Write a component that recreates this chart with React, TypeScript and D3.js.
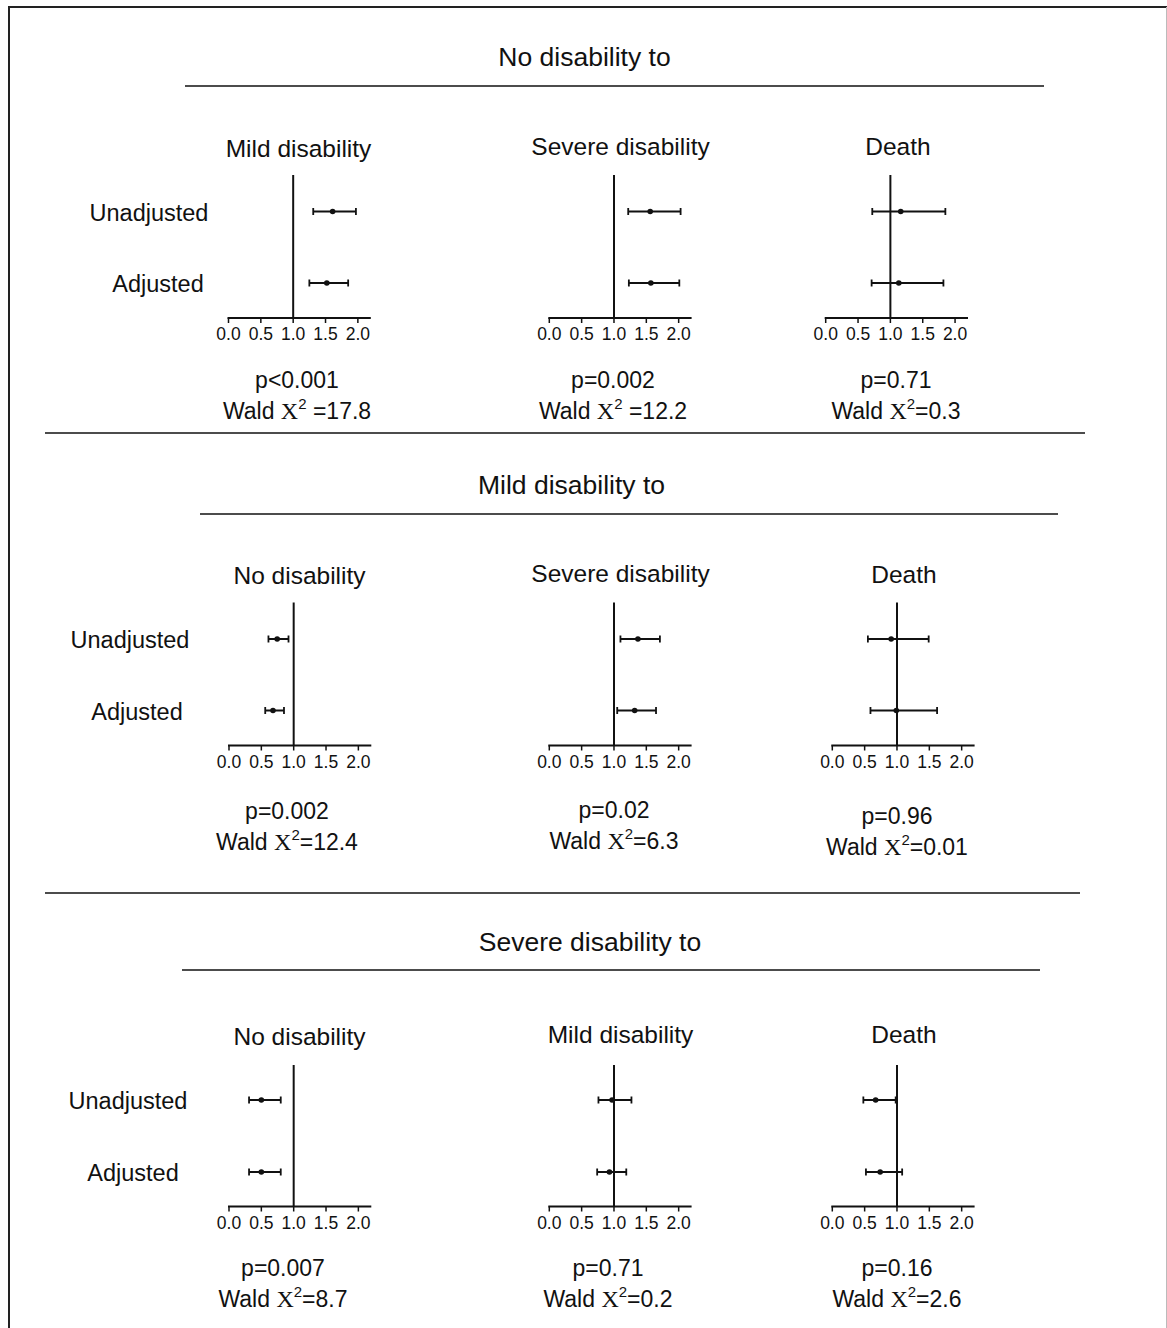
import React from 'react';
import * as d3 from 'd3';

// transition groups (rows) and destination states (columns)
const rowTitles = ['No disability to', 'Mild disability to', 'Severe disability to'];
const panelTitles = [
  ['Mild disability', 'Severe disability', 'Death'],
  ['No disability', 'Severe disability', 'Death'],
  ['No disability', 'Mild disability', 'Death'],
];
const modelLabels = ['Unadjusted', 'Adjusted'];

// hazard ratio estimates with 95% CI, per row then column
const unadjEst = [[1.61, 1.56, 1.16], [0.745, 1.37, 0.91], [0.5, 0.97, 0.67]];
const unadjLow = [[1.31, 1.22, 0.72], [0.61, 1.1, 0.55], [0.31, 0.76, 0.48]];
const unadjHigh = [[1.97, 2.03, 1.85], [0.92, 1.71, 1.49], [0.8, 1.27, 0.98]];
const adjEst = [[1.52, 1.57, 1.13], [0.68, 1.32, 0.99], [0.5, 0.93, 0.74]];
const adjLow = [[1.25, 1.23, 0.71], [0.56, 1.05, 0.59], [0.31, 0.74, 0.52]];
const adjHigh = [[1.85, 2.01, 1.82], [0.85, 1.65, 1.62], [0.8, 1.19, 1.08]];

const pValues = [
  ['p<0.001', 'p=0.002', 'p=0.71'],
  ['p=0.002', 'p=0.02', 'p=0.96'],
  ['p=0.007', 'p=0.71', 'p=0.16'],
];
const waldValues = [
  [' =17.8', ' =12.2', '=0.3'],
  ['=12.4', '=6.3', '=0.01'],
  ['=8.7', '=0.2', '=2.6'],
];

const tickValues = [0, 0.5, 1.0, 1.5, 2.0];
const xDomain = [0, 2.2];

// layout
const FONT = '"Liberation Sans", Arial, sans-serif';
const axisX0 = [[228.5, 549.3, 825.7], [229, 549.3, 832.3], [229, 549.3, 832.3]];
const axisLen = 142.3;
const axisY = [318, 745.5, 1206.5];
const refTop = [175, 602.5, 1065];
const modelY = [[211.5, 283], [639, 710.5], [1100, 1172]];
const labelX = [[149, 158], [130, 137], [128, 133]];
const titleX = [584.5, 571.5, 590];
const titleY = [66, 494, 951];
const underline = [[185, 1044, 86], [200, 1058, 514], [182, 1040, 970]];
const separators = [[45, 1085, 433], [45, 1080, 893]];
const subX = [[298.5, 620.5, 898], [299.5, 620.5, 904], [299.5, 620.5, 904]];
const subY = [[157, 155, 155], [584, 582, 583], [1045, 1043, 1043]];
const statX = [[297, 613, 896], [287, 614, 897], [283, 608, 897]];
const statY = [[388, 388, 388], [819, 818, 824], [1276, 1276, 1276]];

const ink = '#111';

const Panel: React.FC<{ r: number; c: number }> = ({ r, c }) => {
  const x = d3.scaleLinear().domain(xDomain).range([axisX0[r][c], axisX0[r][c] + axisLen]);
  const y0 = axisY[r];
  const rows = [
    { est: unadjEst[r][c], lo: unadjLow[r][c], hi: unadjHigh[r][c], y: modelY[r][0] },
    { est: adjEst[r][c], lo: adjLow[r][c], hi: adjHigh[r][c], y: modelY[r][1] },
  ];
  return (
    <g>
      <text x={subX[r][c]} y={subY[r][c]} textAnchor="middle" fontSize={24.5}>
        {panelTitles[r][c]}
      </text>
      <line x1={x(1)} x2={x(1)} y1={refTop[r]} y2={y0} stroke={ink} strokeWidth={2} />
      <line x1={x(0) - 1} x2={x(2.2)} y1={y0} y2={y0} stroke={ink} strokeWidth={2} />
      {tickValues.map((t) => (
        <g key={t}>
          <line x1={x(t)} x2={x(t)} y1={y0} y2={y0 + 5} stroke={ink} strokeWidth={1.5} />
          <text x={x(t)} y={y0 + 22} textAnchor="middle" fontSize={17.5}>
            {d3.format('.1f')(t)}
          </text>
        </g>
      ))}
      {rows.map((d, i) => (
        <g key={i}>
          <line x1={x(d.lo)} x2={x(d.hi)} y1={d.y} y2={d.y} stroke={ink} strokeWidth={2} />
          <line x1={x(d.lo)} x2={x(d.lo)} y1={d.y - 3.5} y2={d.y + 3.5} stroke={ink} strokeWidth={1.8} />
          <line x1={x(d.hi)} x2={x(d.hi)} y1={d.y - 3.5} y2={d.y + 3.5} stroke={ink} strokeWidth={1.8} />
          <circle cx={x(d.est)} cy={d.y} r={2.8} fill={ink} />
        </g>
      ))}
      <text x={statX[r][c]} y={statY[r][c]} textAnchor="middle" fontSize={23}>
        {pValues[r][c]}
      </text>
      <text x={statX[r][c]} y={statY[r][c] + 31} textAnchor="middle" fontSize={23}>
        <tspan>Wald </tspan>
        <tspan fontFamily='"Liberation Serif", "Times New Roman", serif' fontSize={24}>X</tspan>
        <tspan dy={-10} fontSize={15}>2</tspan>
        <tspan dy={10}>{waldValues[r][c]}</tspan>
      </text>
    </g>
  );
};

const App: React.FC = () => {
  return (
    <div style={{ position: 'absolute', left: 0, top: 0 }}>
      <svg width={1167} height={1328} style={{ display: 'block', background: '#fff' }} fontFamily={FONT} fill={ink}>
        <line x1={9} x2={9} y1={6} y2={1328} stroke="#222" strokeWidth={2} />
        <line x1={8} x2={1167} y1={7} y2={7} stroke="#222" strokeWidth={2} />
        <line x1={1166.5} x2={1166.5} y1={7} y2={1328} stroke="#bbb" strokeWidth={1} />
        {rowTitles.map((t, r) => (
          <g key={r}>
            <text x={titleX[r]} y={titleY[r]} textAnchor="middle" fontSize={26.5}>
              {t}
            </text>
            <line x1={underline[r][0]} x2={underline[r][1]} y1={underline[r][2]} y2={underline[r][2]} stroke={ink} strokeWidth={1.6} />
            {modelLabels.map((m, i) => (
              <text key={m} x={labelX[r][i]} y={modelY[r][i] + 9} textAnchor="middle" fontSize={23.5}>
                {m}
              </text>
            ))}
            {[0, 1, 2].map((c) => (
              <Panel key={c} r={r} c={c} />
            ))}
          </g>
        ))}
        {separators.map((s, i) => (
          <line key={i} x1={s[0]} x2={s[1]} y1={s[2]} y2={s[2]} stroke={ink} strokeWidth={1.6} />
        ))}
      </svg>
    </div>
  );
};

export default App;
